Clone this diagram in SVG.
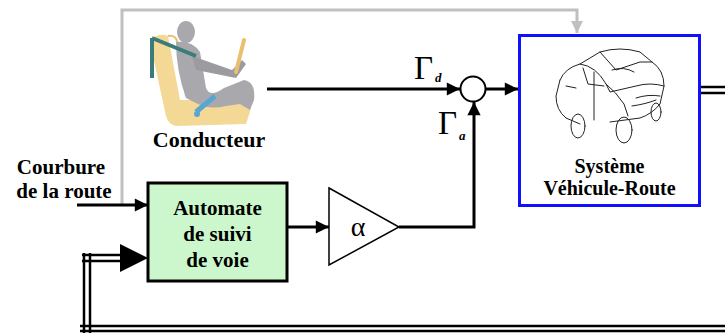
<svg xmlns="http://www.w3.org/2000/svg" width="725" height="334" viewBox="0 0 725 334">
<style>
.lbl{font-family:"Liberation Serif","Times New Roman",serif;font-weight:bold;fill:#000;text-anchor:middle}
.sym{font-family:"Liberation Serif","Times New Roman",serif;fill:#000}
.ln{stroke:#000;stroke-width:3;fill:none}
.dbl{stroke:#000;stroke-width:2.5;fill:none}
.gr{stroke:#c0c0c0;stroke-width:3;fill:none}
.sk{stroke:#222;stroke-width:1;fill:none;stroke-linecap:round;stroke-linejoin:round}
</style>
<defs>
<marker id="ah" viewBox="0 0 10 10" refX="10" refY="5" markerWidth="5" markerHeight="4.4" markerUnits="strokeWidth" orient="auto">
<path d="M0,0 L10,5 L0,10 z" fill="#000"/>
</marker>
<marker id="ahg" viewBox="0 0 10 10" refX="10" refY="5" markerWidth="4" markerHeight="4" markerUnits="strokeWidth" orient="auto">
<path d="M0,0 L10,5 L0,10 z" fill="#c0c0c0"/>
</marker>
</defs>
<rect width="725" height="334" fill="#fff"/>

<g id="connectors">
<polyline class="gr" points="122,205 122,10 577,10 577,33" marker-end="url(#ahg)"/>
<line class="ln" x1="267" y1="89" x2="460" y2="89" marker-end="url(#ah)"/>
<line class="ln" x1="486" y1="89" x2="518" y2="89" marker-end="url(#ah)"/>
<line class="ln" x1="77" y1="205" x2="148" y2="205" marker-end="url(#ah)"/>
<line class="ln" x1="287" y1="227" x2="329" y2="227" marker-end="url(#ah)"/>
<polyline class="ln" points="399,227 474,227 474,102" marker-end="url(#ah)"/>
<line class="dbl" x1="701" y1="87" x2="725" y2="87"/>
<line class="dbl" x1="701" y1="93" x2="725" y2="93"/>
<line class="dbl" x1="80" y1="326" x2="725" y2="326"/>
<line class="dbl" x1="80" y1="331" x2="725" y2="331"/>
<line class="dbl" x1="84" y1="253" x2="84" y2="333"/>
<line class="dbl" x1="90" y1="253" x2="90" y2="333"/>
<line class="dbl" x1="82" y1="255" x2="121" y2="255"/>
<line class="dbl" x1="82" y1="261" x2="121" y2="261"/>
<path d="M120,244 L148,258 L120,272 z" fill="#000"/>
</g>

<g id="courbure">
<text class="lbl" x="61" y="174" font-size="21">Courbure</text>
<text class="lbl" x="64" y="198" font-size="21">de la route</text>
</g>

<g id="conducteur">
<path d="M150,42 Q156,32 168,36 L180,100 Q200,100 240,98 Q252,100 250,112 L246,124 L176,126 Q168,124 166,116 Z" fill="#f3d48a" opacity="0.9"/>
<path d="M168,36 Q176,34 178,44 L186,96" fill="none" stroke="#e8c070" stroke-width="2"/>
<ellipse cx="186" cy="32" rx="9" ry="11" fill="#a9a9ad"/>
<path d="M176,42 Q192,40 200,52 L206,88 Q210,98 224,88 L244,80 Q256,82 254,100 L250,110 L240,104 L226,106 Q210,110 198,104 L186,98 Q176,70 176,42 Z" fill="#a9a9ad"/>
<path d="M192,56 L232,70 L242,60 L246,64 L236,78 L196,70 Z" fill="#9c9ca0"/>
<path d="M244,40 L236,72" stroke="#e8c070" stroke-width="4" stroke-linecap="round"/>
<path d="M152,38 L152,78" stroke="#3b7c7a" stroke-width="4"/>
<path d="M152,38 L196,56" stroke="#3b7c7a" stroke-width="4"/>
<path d="M196,112 L215,96" stroke="#5aa6d0" stroke-width="5"/>
<circle cx="197" cy="114" r="3" fill="#5aa6d0"/>
<text class="lbl" x="209" y="147" font-size="22">Conducteur</text>
</g>

<g id="sum">
<circle cx="473" cy="89" r="12.5" fill="#fff" stroke="#000" stroke-width="2"/>
<text class="sym" x="414" y="79" font-size="33">Γ</text>
<text class="sym" x="435" y="82" font-size="13" font-weight="bold" font-style="italic">d</text>
<text class="sym" x="438" y="134" font-size="33">Γ</text>
<text class="sym" x="459" y="140" font-size="13" font-weight="bold" font-style="italic">a</text>
</g>

<g id="automate">
<rect x="148" y="183" width="139" height="98" fill="#ccf7cc" stroke="#000" stroke-width="3"/>
<text class="lbl" x="217.5" y="215" font-size="21">Automate</text>
<text class="lbl" x="217.5" y="241" font-size="21">de suivi</text>
<text class="lbl" x="217.5" y="267" font-size="21">de voie</text>
</g>

<g id="gain">
<path d="M329,188 L399,227 L329,265 Z" fill="#fff" stroke="#000" stroke-width="1.5"/>
<text class="sym" x="358" y="236" font-size="28" text-anchor="middle">α</text>
</g>

<g id="vehicule">
<rect x="519.5" y="35.5" width="180" height="170" fill="#fff" stroke="#1010ff" stroke-width="3"/>
<g class="sk">
<path d="M560,80 Q565,68 580,64 L600,52 Q620,46 640,52 L652,62 Q664,70 664,86 L660,104 Q652,114 640,118 L610,122"/>
<path d="M560,80 L556,96 Q556,110 566,118 L580,124"/>
<path d="M580,64 Q596,66 606,84 L610,92 L636,86 Q650,82 664,86"/>
<path d="M600,52 L616,70 L640,62 L652,62"/>
<path d="M583,68 L588,84 L604,86"/>
<path d="M594,72 L594,120"/>
<path d="M606,84 Q616,92 624,104 L628,116"/>
<path d="M566,86 L576,88"/>
<ellipse cx="578" cy="126" rx="7" ry="12"/>
<ellipse cx="624" cy="130" rx="8" ry="13"/>
<ellipse cx="656" cy="112" rx="5" ry="9"/>
<path d="M636,98 Q648,94 660,96"/>
<path d="M612,70 Q624,66 634,72"/>
<path d="M632,106 Q646,104 656,100"/>
</g>
<text class="lbl" x="609.5" y="173" font-size="20">Système</text>
<text class="lbl" x="609.5" y="195" font-size="20">Véhicule-Route</text>
</g>
</svg>
